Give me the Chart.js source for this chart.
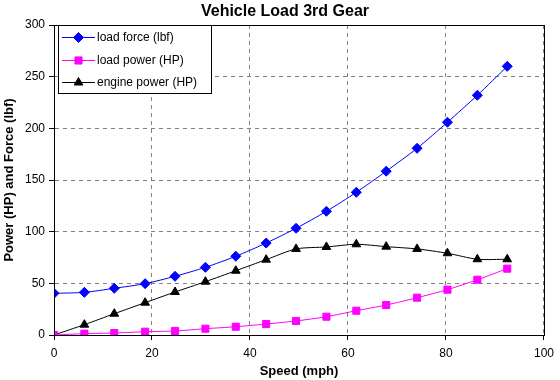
<!DOCTYPE html>
<html>
<head>
<meta charset="utf-8">
<script src="https://cdn.jsdelivr.net/npm/chart.js@4"></script>
<style>
  html, body { margin: 0; padding: 0; background: #fff; }
  #wrap { width: 560px; height: 380px; }
</style>
</head>
<body>
<div id="wrap"><canvas id="c" width="560" height="380"></canvas></div>
<script>
// speed (mph) for each sample
const speed = [0, 6.2, 12.3, 18.6, 24.7, 30.9, 37.1, 43.3, 49.4, 55.6, 61.7, 67.8, 74.1, 80.3, 86.4, 92.5];
const loadForce = [40.3, 41.3, 45.2, 49.7, 56.8, 65.5, 76.2, 89, 103.3, 119.7, 138.1, 158.5, 180.7, 205.9, 232, 260];
const loadPower = [0, 1.3, 1.9, 3.2, 3.9, 6.1, 8.0, 10.6, 13.6, 17.7, 23.5, 29, 36.1, 43.9, 53.5, 64.2];
const enginePower = [0, 10, 20.6, 31.3, 41.6, 51.6, 62.2, 72.9, 83.3, 85.2, 87.8, 85.5, 83.3, 79.1, 73.3, 73.3];

const seriesNames = ['load force (lbf)', 'load power (HP)', 'engine power (HP)'];
const xTicks = [0, 20, 40, 60, 80, 100];
const yTicks = [0, 50, 100, 150, 200, 250, 300];

const FONT = '"Liberation Sans", Arial, sans-serif';

function pts(ys) {
  return speed.map((x, i) => ({ x: x, y: ys[i] }));
}

// plot border + in-plot legend + chart title
const decor = {
  id: 'decor',
  beforeDraw(chart) {
    const ctx = chart.ctx;
    ctx.save();
    ctx.fillStyle = '#fff';
    ctx.fillRect(0, 0, chart.width, chart.height);
    ctx.restore();
  },
  afterDraw(chart) {
    const ctx = chart.ctx, a = chart.chartArea;
    ctx.save();
    ctx.strokeStyle = '#000';
    ctx.lineWidth = 1;
    ctx.strokeRect(Math.round(a.left) + 0.5, Math.round(a.top) + 0.5, Math.round(a.right - a.left), Math.round(a.bottom - a.top));

    // title
    ctx.fillStyle = '#000';
    ctx.font = 'bold 16px ' + FONT;
    ctx.textAlign = 'center';
    ctx.textBaseline = 'middle';
    ctx.fillText('Vehicle Load 3rd Gear', 285, 12);

    // legend box
    const bx = 58, by = 25, bw = 153, bh = 68;
    ctx.fillStyle = '#fff';
    ctx.fillRect(bx, by, bw, bh);
    ctx.strokeStyle = '#000';
    ctx.strokeRect(bx + 0.5, by + 0.5, bw, bh);
    const rows = [37, 60, 82];
    chart.data.datasets.forEach((ds, i) => {
      const y = rows[i];
      ctx.strokeStyle = ds.borderColor;
      ctx.lineWidth = 1;
      ctx.beginPath();
      ctx.moveTo(62, y + 0.5);
      ctx.lineTo(95, y + 0.5);
      ctx.stroke();
      ctx.fillStyle = ds.backgroundColor;
      ctx.strokeStyle = ds.borderColor;
      Chart.helpers.drawPoint(ctx, {
        pointStyle: ds.pointStyle,
        radius: ds.pointRadius,
        borderWidth: 1
      }, 78.5, y + 0.5);
      ctx.fillStyle = '#000';
      ctx.font = '12px ' + FONT;
      ctx.textAlign = 'left';
      ctx.textBaseline = 'middle';
      ctx.fillText(ds.label, 97, y + 1);
    });
    ctx.restore();
  }
};

const baseDs = {
  showLine: true,
  tension: 0.25,
  borderWidth: 1,
  pointRadius: 5,
  pointHoverRadius: 5
};

const chart = new Chart(document.getElementById('c'), {
  type: 'scatter',
  data: {
    datasets: [
      Object.assign({}, baseDs, {
        label: seriesNames[0], data: pts(loadForce),
        borderColor: '#0000FF', backgroundColor: '#0000FF', pointStyle: 'rectRot', pointRadius: 5
      }),
      Object.assign({}, baseDs, {
        label: seriesNames[1], data: pts(loadPower),
        borderColor: '#FF00FF', backgroundColor: '#FF00FF', pointStyle: 'rect', pointRadius: 5
      }),
      Object.assign({}, baseDs, {
        label: seriesNames[2], data: pts(enginePower),
        borderColor: '#000000', backgroundColor: '#000000', pointStyle: 'triangle', pointRadius: 5
      })
    ]
  },
  options: {
    responsive: false,
    animation: false,
    events: [],
    layout: { padding: { top: 25, right: 16, left: 0, bottom: 0 } },
    plugins: {
      legend: { display: false },
      tooltip: { enabled: false },
      title: { display: false }
    },
    scales: {
      x: {
        type: 'linear',
        min: 0, max: 100,
        afterBuildTicks: s => { s.ticks = xTicks.map(v => ({ value: v })); },
        afterFit: s => { s.height = 45; },
        ticks: { color: '#000', font: { family: FONT, size: 12 }, padding: 6, maxRotation: 0 },
        grid: {
          color: c => c.tick.value === 0 ? '#000' : '#808080',
          lineWidth: 1,
          tickLength: 5,
          tickColor: '#000'
        },
        border: { color: '#000', dash: [4, 4] },
        title: {
          display: true, text: 'Speed (mph)', color: '#000',
          font: { family: FONT, size: 13, weight: 'bold' }, padding: { top: 0, bottom: 1 }
        }
      },
      y: {
        type: 'linear',
        min: 0, max: 300,
        afterBuildTicks: s => { s.ticks = yTicks.map(v => ({ value: v })); },
        afterFit: s => { s.width = 54; },
        ticks: { color: '#000', font: { family: FONT, size: 12 }, padding: 4 },
        grid: {
          color: '#808080',
          lineWidth: 1,
          tickLength: 5,
          tickColor: '#000'
        },
        border: { color: '#000', dash: [4, 4] },
        title: {
          display: true, text: 'Power (HP) and Force (lbf)', color: '#000',
          font: { family: FONT, size: 13, weight: 'bold' }, padding: { top: 2, bottom: 2 }
        }
      }
    }
  },
  plugins: [decor]
});
</script>
</body>
</html>
